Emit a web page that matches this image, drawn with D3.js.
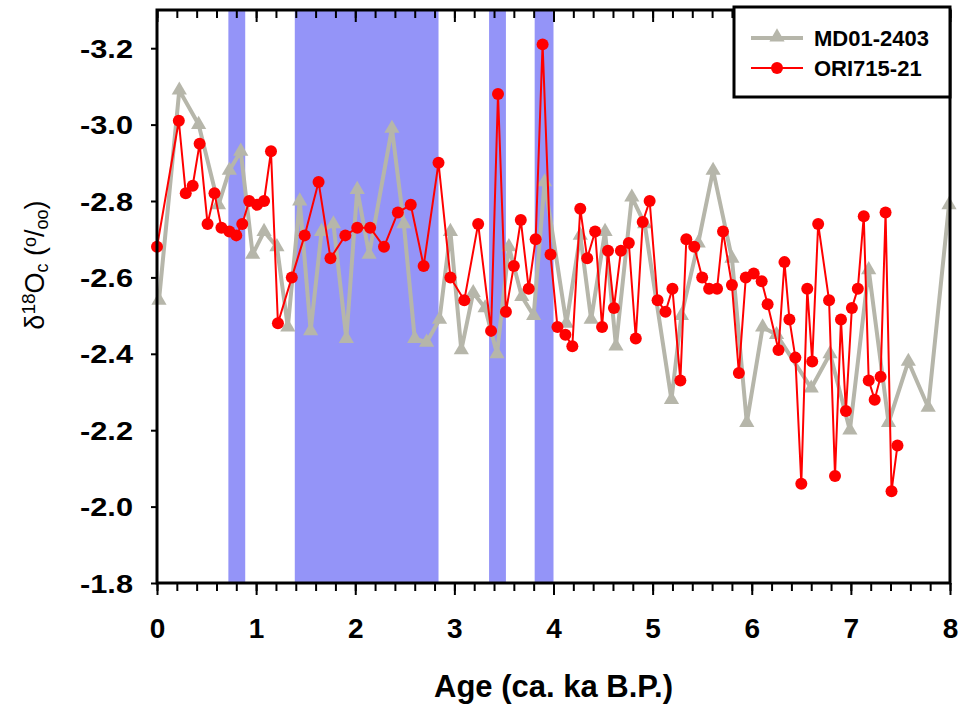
<!DOCTYPE html>
<html>
<head>
<meta charset="utf-8">
<script src="https://cdn.jsdelivr.net/npm/d3@7"></script>
<style>
  body { margin: 0; background: #fff; }
  svg { display: block; font-family: "Liberation Sans", Arial, sans-serif; }
</style>
</head>
<body>
<div class="figure"></div>
<script>
// MD01-2403 (grey triangles)
const mdAge = [0.02, 0.225, 0.42, 0.62, 0.73, 0.845, 0.965, 1.08, 1.21, 1.32, 1.44, 1.55, 1.66, 1.78, 1.91,
  2.02, 2.14, 2.37, 2.49, 2.60, 2.72, 2.85, 2.96, 3.07, 3.19, 3.31, 3.43, 3.55, 3.68, 3.80, 3.91,
  4.13, 4.27, 4.38, 4.52, 4.63, 4.79, 4.92, 5.19, 5.29, 5.46, 5.61, 5.80, 5.95, 6.11, 6.25,
  6.60, 6.79, 6.99, 7.18, 7.38, 7.58, 7.78, 7.99];
const mdD18O = [-2.54, -3.09, -3.00, -2.79, -2.88, -2.93, -2.66, -2.72, -2.68, -2.47, -2.80, -2.46, -2.72, -2.74, -2.44,
  -2.83, -2.66, -2.99, -2.74, -2.44, -2.43, -2.49, -2.72, -2.41, -2.56, -2.52, -2.40, -2.68, -2.55, -2.50, -2.85,
  -2.48, -2.71, -2.49, -2.72, -2.42, -2.81, -2.74, -2.28, -2.50, -2.69, -2.88, -2.65, -2.22, -2.47, -2.45,
  -2.31, -2.40, -2.20, -2.62, -2.22, -2.38, -2.26, -2.79];

// ORI715-21 (red circles)
const oriAge = [0.00, 0.22, 0.29, 0.36, 0.43, 0.51, 0.58, 0.65, 0.73, 0.80, 0.86, 0.93, 1.01, 1.08, 1.15, 1.22,
  1.36, 1.49, 1.63, 1.75, 1.90, 2.02, 2.15, 2.29, 2.43, 2.56, 2.69, 2.84, 2.96, 3.10, 3.24, 3.37, 3.44,
  3.52, 3.60, 3.67, 3.75, 3.82, 3.89, 3.97, 4.04, 4.12, 4.19, 4.27, 4.34, 4.42, 4.49, 4.55, 4.61, 4.68,
  4.76, 4.83, 4.90, 4.97, 5.05, 5.13, 5.20, 5.28, 5.34, 5.42, 5.50, 5.57, 5.65, 5.71, 5.80, 5.87, 5.94,
  6.02, 6.10, 6.16, 6.27, 6.33, 6.38, 6.44, 6.50, 6.56, 6.61, 6.67, 6.78, 6.84, 6.90, 6.95, 7.01, 7.07,
  7.13, 7.18, 7.24, 7.30, 7.35, 7.41, 7.47];
const oriD18O = [-2.68, -3.01, -2.82, -2.84, -2.95, -2.74, -2.82, -2.73, -2.72, -2.71, -2.74, -2.80, -2.79, -2.80, -2.93, -2.48,
  -2.60, -2.71, -2.85, -2.65, -2.71, -2.73, -2.73, -2.68, -2.77, -2.79, -2.63, -2.90, -2.60, -2.54, -2.74, -2.46, -3.08,
  -2.51, -2.63, -2.75, -2.57, -2.70, -3.21, -2.66, -2.47, -2.45, -2.42, -2.78, -2.65, -2.72, -2.47, -2.67, -2.52, -2.67,
  -2.69, -2.44, -2.745, -2.80, -2.54, -2.51, -2.57, -2.33, -2.70, -2.68, -2.60, -2.57, -2.57, -2.72, -2.58, -2.35, -2.60,
  -2.61, -2.59, -2.53, -2.41, -2.64, -2.49, -2.39, -2.06, -2.57, -2.38, -2.74, -2.54, -2.08, -2.49, -2.25, -2.52, -2.57,
  -2.76, -2.33, -2.28, -2.34, -2.77, -2.04, -2.16];

// shaded intervals (ka)
const bandStart = [0.72, 1.39, 3.35, 3.81];
const bandEnd = [0.89, 2.84, 3.52, 4.00];

const xTicks = [0, 1, 2, 3, 4, 5, 6, 7, 8];
const xMinorTicks = d3.range(0, 8.01, 0.2);
const yTicks = [-3.2, -3.0, -2.8, -2.6, -2.4, -2.2, -2.0, -1.8];
const seriesNames = ['MD01-2403', 'ORI715-21'];

const mdData = mdAge.map((a, i) => ({age: a, v: mdD18O[i]}));
const oriData = oriAge.map((a, i) => ({age: a, v: oriD18O[i]}));
const bands = bandStart.map((s, i) => ({s, e: bandEnd[i]}));

const grey = '#b6b6aa';
const red = '#ff0000';
const bandColour = '#9494f8';

const svg = d3.select('.figure')
  .append('svg')
  .attr('width', 961)
  .attr('height', 706);

const margin = {top: 10, right: 11, bottom: 123, left: 157};
const graphWidth = 961 - margin.left - margin.right;
const graphHeight = 706 - margin.top - margin.bottom;

const graph = svg.append('g')
  .attr('transform', `translate(${margin.left}, ${margin.top})`);

const x = d3.scaleLinear().domain([0, 8]).range([0, graphWidth]);
const y = d3.scaleLinear().domain([-1.8, -3.3]).range([graphHeight, 0]);

// bands
graph.selectAll('rect.band')
  .data(bands)
  .enter().append('rect')
    .attr('class', 'band')
    .attr('x', d => x(d.s))
    .attr('width', d => x(d.e) - x(d.s))
    .attr('y', 0)
    .attr('height', graphHeight)
    .attr('fill', bandColour);

// axes: minor + major ticks
const tickStyle = g => {
  g.select('.domain').remove();
  g.selectAll('line').attr('stroke', 'black').attr('stroke-width', 2);
};

graph.append('g')
  .attr('transform', `translate(0, ${graphHeight})`)
  .call(d3.axisBottom(x).tickValues(xMinorTicks).tickSize(8).tickFormat(''))
  .call(tickStyle);
graph.append('g')
  .attr('transform', `translate(0, ${graphHeight})`)
  .call(d3.axisBottom(x).tickValues(xTicks).tickSize(12).tickFormat(d3.format('d')))
  .call(tickStyle)
  .call(g => g.selectAll('text')
    .attr('font-size', 28).attr('font-weight', 'bold').attr('fill', 'black')
    .attr('dy', 0).attr('y', 55));

graph.append('g')
  .call(d3.axisTop(x).tickValues(xMinorTicks).tickSize(-8).tickFormat(''))
  .call(tickStyle);
graph.append('g')
  .call(d3.axisTop(x).tickValues(xTicks).tickSize(-12).tickFormat(''))
  .call(tickStyle);

graph.append('g')
  .call(d3.axisLeft(y).tickValues(yTicks).tickSize(6).tickPadding(18).tickFormat(d3.format('.1f')))
  .call(tickStyle)
  .call(g => g.selectAll('text')
    .attr('font-size', 25).attr('font-weight', 'bold').attr('fill', 'black')
    .attr('dy', '0.36em')
    .attr('textLength', 53).attr('lengthAdjust', 'spacingAndGlyphs')
    .text(d => d3.format('.1f')(d).replace('−', '-')));

// MD01-2403 line
const line = d3.line().x(d => x(d.age)).y(d => y(d.v));

graph.append('path')
  .datum(mdData)
  .attr('fill', 'none')
  .attr('stroke', grey)
  .attr('stroke-width', 4)
  .attr('stroke-linejoin', 'round')
  .attr('d', line);

const tri = d3.symbol().type(d3.symbolTriangle).size(100);
graph.selectAll('path.tri')
  .data(mdData)
  .enter().append('path')
    .attr('class', 'tri')
    .attr('d', tri)
    .attr('transform', d => `translate(${x(d.age)}, ${y(d.v)})`)
    .attr('fill', grey);

// ORI715-21 line
graph.append('path')
  .datum(oriData)
  .attr('fill', 'none')
  .attr('stroke', red)
  .attr('stroke-width', 2)
  .attr('d', line);

graph.selectAll('circle.pt')
  .data(oriData)
  .enter().append('circle')
    .attr('class', 'pt')
    .attr('cx', d => x(d.age))
    .attr('cy', d => y(d.v))
    .attr('r', 6)
    .attr('fill', red);

// frame
graph.append('rect')
  .attr('width', graphWidth)
  .attr('height', graphHeight)
  .attr('fill', 'none')
  .attr('stroke', 'black')
  .attr('stroke-width', 3);

// legend
const legend = graph.append('g')
  .attr('transform', `translate(${graphWidth - 216}, -3)`);
legend.append('rect')
  .attr('width', 216)
  .attr('height', 90)
  .attr('fill', 'white')
  .attr('stroke', 'black')
  .attr('stroke-width', 3);

const legendItems = legend.selectAll('g.item')
  .data(seriesNames)
  .enter().append('g')
    .attr('class', 'item')
    .attr('transform', (d, i) => `translate(0, ${31 + i * 30})`);

legendItems.append('line')
  .attr('x1', 17).attr('x2', 69)
  .attr('stroke', (d, i) => i === 0 ? grey : red)
  .attr('stroke-width', (d, i) => i === 0 ? 4 : 2);
legendItems.filter((d, i) => i === 0).append('path')
  .attr('d', tri)
  .attr('transform', 'translate(43, -1)')
  .attr('fill', grey);
legendItems.filter((d, i) => i === 1).append('circle')
  .attr('cx', 43).attr('r', 6)
  .attr('fill', red);
legendItems.append('text')
  .attr('x', 80)
  .attr('dy', '0.36em')
  .attr('font-size', 22)
  .attr('font-weight', 'bold')
  .text(d => d);

// axis titles
svg.append('text')
  .attr('x', margin.left + x(4))
  .attr('y', 697)
  .attr('text-anchor', 'middle')
  .attr('font-size', 31)
  .attr('font-weight', 'bold')
  .text('Age (ca. ka B.P.)');

const yTitle = svg.append('text')
  .attr('transform', 'translate(44, 265) rotate(-90)')
  .attr('text-anchor', 'middle')
  .attr('font-size', 27);
yTitle.append('tspan').text('δ');
yTitle.append('tspan').attr('font-size', 19).attr('baseline-shift', '45%').text('18');
yTitle.append('tspan').text('O');
yTitle.append('tspan').attr('font-size', 18).attr('baseline-shift', '-20%').text('c');
yTitle.append('tspan').text(' (');
yTitle.append('tspan').attr('font-size', 18).attr('baseline-shift', '45%').text('o');
yTitle.append('tspan').text('/');
yTitle.append('tspan').attr('font-size', 18).attr('baseline-shift', '-20%').text('oo');
yTitle.append('tspan').text(')');
</script>
</body>
</html>
